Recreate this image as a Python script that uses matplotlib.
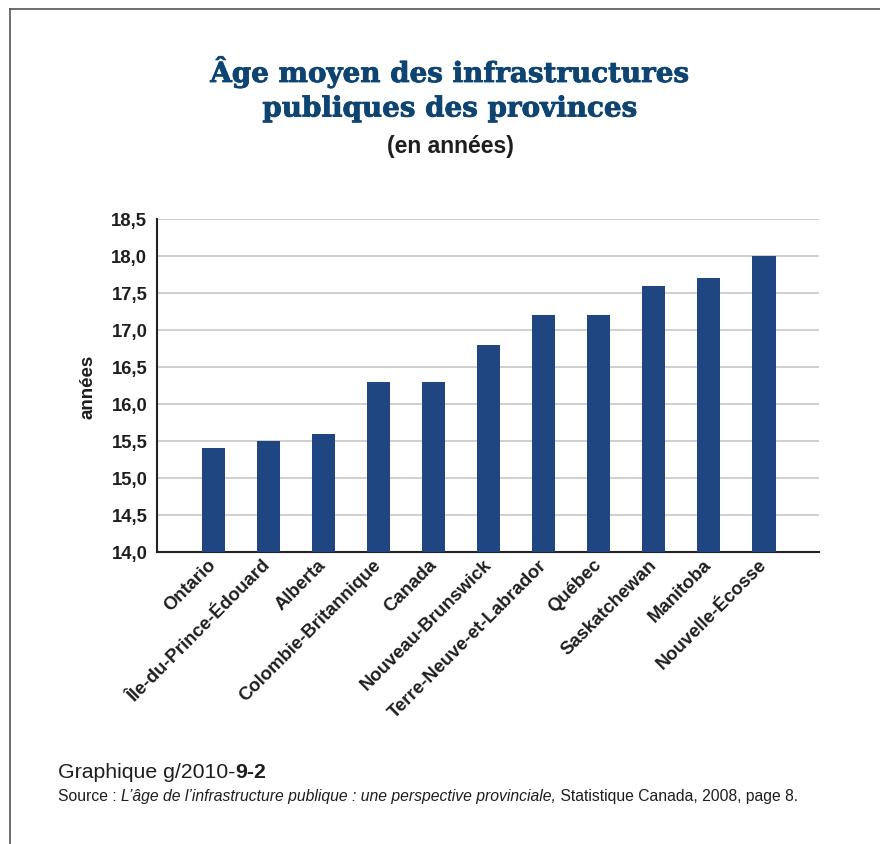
import matplotlib
matplotlib.use("Agg")
import matplotlib.pyplot as plt
import matplotlib.patheffects as pe
from matplotlib.lines import Line2D

# Données du graphique
provinces = ["Ontario", "Île-du-Prince-Édouard", "Alberta", "Colombie-Britannique",
             "Canada", "Nouveau-Brunswick", "Terre-Neuve-et-Labrador", "Québec",
             "Saskatchewan", "Manitoba", "Nouvelle-Écosse"]
ages = [15.4, 15.5, 15.6, 16.3, 16.3, 16.8, 17.2, 17.2, 17.6, 17.7, 18.0]
yticks = [14.0, 14.5, 15.0, 15.5, 16.0, 16.5, 17.0, 17.5, 18.0, 18.5]

SANS = ["Liberation Sans", "DejaVu Sans"]
W, H = 880, 845
TXT = "#1e1e1e"

fig = plt.figure(figsize=(W / 100, H / 100), dpi=100)
ax = fig.add_axes([157 / W, 1 - 553 / H, 662 / W, 333 / H])

x = list(range(len(provinces)))
ax.bar(x, ages, width=0.42, color="#1f4680", zorder=3)
ax.set_xlim(-1.03, 11.0)
ax.set_ylim(14.0, 18.5)
ax.set_yticks(yticks)
ax.set_yticklabels([f"{v:.1f}".replace(".", ",") for v in yticks],
                   fontsize=13.3, fontweight="bold", family=SANS, color=TXT)
ax.set_xticks(x)
ax.set_xticklabels(provinces, rotation=45, ha="right", va="center", rotation_mode="anchor",
                   fontsize=13.3, fontweight="bold", family=SANS, color=TXT)
ax.tick_params(axis="y", length=0, pad=7)
ax.tick_params(axis="x", length=0, pad=7)
ax.grid(axis="y", color="#cccccc", linewidth=1.3, zorder=0)
for s in ["top", "right"]:
    ax.spines[s].set_visible(False)
for s in ["left", "bottom"]:
    ax.spines[s].set_linewidth(1.5)
    ax.spines[s].set_color("#222222")
ax.set_ylabel("années", fontsize=13.5, fontweight="bold", family=SANS,
              color=TXT, labelpad=11)

# Titre
heavy = [pe.withStroke(linewidth=0.6, foreground="#0e4472")]
fig.text(450 / W, 1 - 73 / H, "Âge moyen des infrastructures", ha="center", va="center",
         fontsize=20, fontweight="bold", family="DejaVu Serif", color="#0e4472",
         path_effects=heavy)
fig.text(450 / W, 1 - 110 / H, "publiques des provinces", ha="center", va="center",
         fontsize=20, fontweight="bold", family="DejaVu Serif", color="#0e4472",
         path_effects=heavy)
fig.text(450 / W, 1 - 147 / H, "(en années)", ha="center", va="center",
         fontsize=16.5, fontweight="bold", family=SANS, color=TXT)

# Cadre
fig.add_artist(Line2D([10 / W, 1], [1 - 10 / H, 1 - 10 / H], color="#555555", lw=1.2))
fig.add_artist(Line2D([10 / W, 10 / W], [0, 1 - 10 / H], color="#555555", lw=1.2))

# Pied de page
renderer = fig.canvas.get_renderer()

def put_pieces(pieces, x0, y0, size):
    xpos = x0
    for txt, style, weight in pieces:
        t = fig.text(xpos / W, 1 - y0 / H, txt, ha="left", va="center", fontsize=size,
                     style=style, fontweight=weight, family=SANS, color=TXT)
        bb = t.get_window_extent(renderer=renderer)
        xpos += bb.width

put_pieces([("Graphique g/2010-", "normal", "normal"), ("9-2", "normal", "heavy")],
           58, 773, 15.3)
put_pieces([("Source : ", "normal", "normal"),
            ("L’âge de l’infrastructure publique : une perspective provinciale,", "italic", "normal"),
            (" Statistique Canada, 2008, page 8.", "normal", "normal")],
           58, 797, 11.3)

fig.savefig("out.png", dpi=100)
